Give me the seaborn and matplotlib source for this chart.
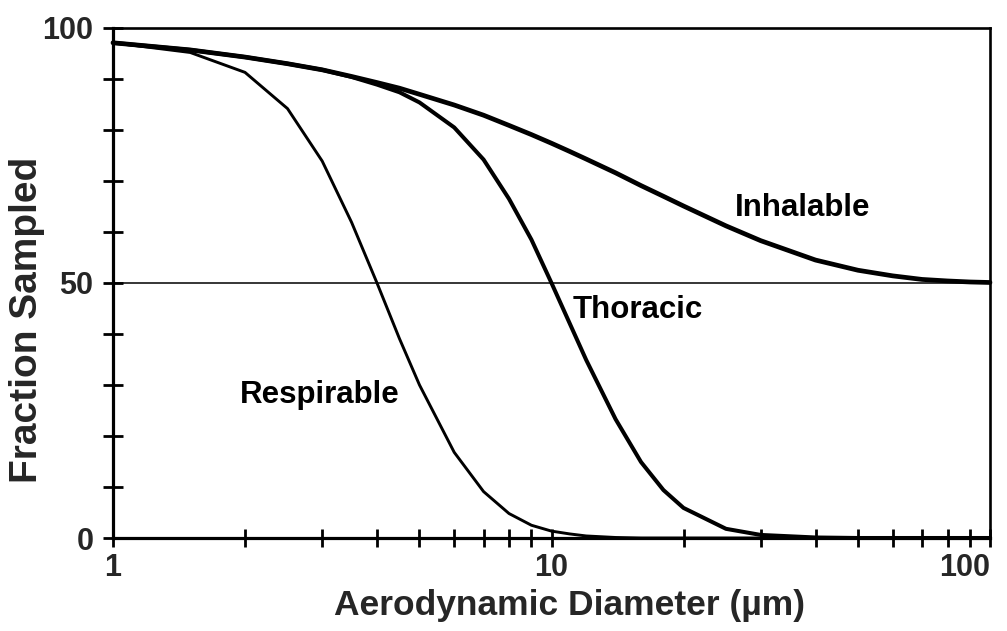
import matplotlib
matplotlib.use("Agg")
import matplotlib.pyplot as plt
import matplotlib.ticker as mticker
import seaborn as sns
import pandas as pd

# ---- data ----
diameter = [1, 1.5, 2, 2.5, 3, 3.5, 4, 4.5, 5, 6, 7, 8, 9, 10, 11, 12, 14, 16,
            18, 20, 25, 30, 40, 50, 60, 70, 80, 90, 100]
inhalable = [97.1, 95.7, 94.3, 93.0, 91.8, 90.5, 89.3, 88.2, 87.0, 84.9, 82.9,
             80.9, 79.1, 77.4, 75.8, 74.3, 71.6, 69.1, 67.0, 65.1, 61.2, 58.3,
             54.5, 52.5, 51.4, 50.7, 50.4, 50.2, 50.1]
thoracic = [97.1, 95.7, 94.3, 93.0, 91.8, 90.4, 88.9, 87.4, 85.4, 80.5, 74.2,
            66.5, 58.5, 50.0, 42.1, 34.9, 23.3, 14.9, 9.4, 5.9, 1.8, 0.6,
            0.1, 0.0, 0.0, 0.0, 0.0, 0.0, 0.0]
respirable = [97.1, 95.2, 91.3, 84.2, 73.9, 61.9, 50.0, 39.1, 30.0, 16.8, 9.1,
              4.8, 2.5, 1.35, 0.8, 0.4, 0.1, 0.0, 0.0, 0.0, 0.0, 0.0,
              0.0, 0.0, 0.0, 0.0, 0.0, 0.0, 0.0]

x_major = [1, 10, 100]
x_major_labels = ["1", "10", "100"]
x_minor = [2, 3, 4, 5, 6, 7, 8, 9, 20, 30, 40, 50, 60, 70, 80, 90]
y_major = [0, 50, 100]
y_minor = [10, 20, 30, 40, 60, 70, 80, 90]

labels = ["Respirable", "Thoracic", "Inhalable"]
label_pos = [(1.95, 28.0), (11.2, 44.7), (26.2, 64.7)]

df = pd.DataFrame({"d": diameter, "Inhalable": inhalable,
                   "Thoracic": thoracic, "Respirable": respirable})

sns.set_style("white")
plt.rcParams["font.family"] = ["Liberation Sans", "DejaVu Sans"]
plt.rcParams["font.weight"] = "bold"

fig = plt.figure(figsize=(10.07, 6.31), dpi=100)
ax = fig.add_axes([113 / 1007, 1 - 538 / 631, 877 / 1007, 510 / 631])
ax.set_xscale("log")

ax.axhline(50, color="black", lw=1.1, zorder=1)

widths = {"Inhalable": 3.4, "Thoracic": 2.9, "Respirable": 2.1}
for name in ["Inhalable", "Thoracic", "Respirable"]:
    sns.lineplot(data=df, x="d", y=name, ax=ax, color="black",
                 linewidth=widths[name], sort=False, estimator=None,
                 clip_on=False, zorder=3)

ax.set_xlim(1, 100)
ax.set_ylim(0, 100)

ax.xaxis.set_major_locator(mticker.FixedLocator(x_major))
ax.xaxis.set_minor_locator(mticker.FixedLocator(x_minor))
ax.set_xticklabels(x_major_labels)
ax.xaxis.set_minor_formatter(mticker.NullFormatter())
ax.yaxis.set_major_locator(mticker.FixedLocator(y_major))
ax.yaxis.set_minor_locator(mticker.FixedLocator(y_minor))
ax.set_yticklabels([str(v) for v in y_major])

ax.tick_params(axis="both", which="both", direction="inout", color="black",
               width=2.0, bottom=True, left=True, top=False, right=False)
ax.tick_params(axis="x", which="both", length=13, pad=4, labelsize=22)
ax.tick_params(axis="y", which="both", length=14, pad=7, labelsize=22)
for t in ax.get_xticklabels() + ax.get_yticklabels():
    t.set_fontweight("bold")
ax.get_xticklabels()[-1].set_ha("right")

for side in ["left", "bottom"]:
    ax.spines[side].set_linewidth(2.3)
for side in ["top", "right"]:
    ax.spines[side].set_linewidth(1.9)
for s in ax.spines.values():
    s.set_color("black")
    s.set_visible(True)

ax.set_xlabel("Aerodynamic Diameter (\u00b5m)", fontsize=25.5, fontweight="bold")
ax.set_ylabel("Fraction Sampled", fontsize=28, fontweight="bold")
ax.xaxis.set_label_coords(0.521, -0.100)
ax.yaxis.set_label_coords(-0.077, 0.427)

for lab, (lx, ly) in zip(labels, label_pos):
    ax.text(lx, ly, lab, fontsize=22.5, fontweight="bold", ha="left",
            va="center", color="black")

fig.savefig("out.png", dpi=100, facecolor="white")
